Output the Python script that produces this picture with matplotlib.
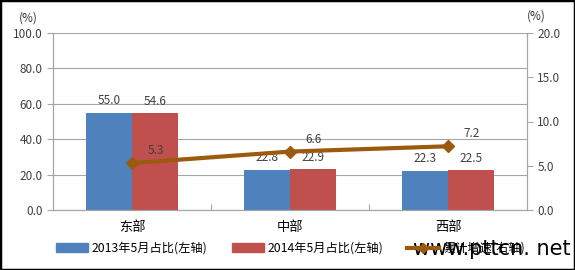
import matplotlib
matplotlib.use("Agg")
import matplotlib.pyplot as plt
import numpy as np
from matplotlib.patches import Rectangle

plt.rcParams['font.family'] = ['Noto Sans CJK SC', 'DejaVu Sans']

regions = ['东部', '中部', '西部']
share_2013 = [55.0, 22.8, 22.3]
share_2014 = [54.6, 22.9, 22.5]
growth = [5.3, 6.6, 7.2]
series_names = ['2013年5月占比(左轴)', '2014年5月占比(左轴)', '累计增速(右轴)']

blue = '#4F81BD'
red = '#C0504D'
brown = '#9B5A0F'
grid_c = '#A6A6A6'

fig = plt.figure(figsize=(5.75, 2.7), dpi=100)
fig.patches.append(Rectangle((0, 0), 1, 1, transform=fig.transFigure,
                             fill=False, edgecolor='black', linewidth=2.5))

ax = fig.add_axes([0.0922, 0.2222, 0.8243, 0.6556])
ax2 = ax.twinx()

x = np.arange(len(regions))
w = 0.29
b1 = ax.bar(x - w / 2, share_2013, w, color=blue, zorder=2)
b2 = ax.bar(x + w / 2, share_2014, w, color=red, zorder=2)
for bars, vals in ((b1, share_2013), (b2, share_2014)):
    for r, v in zip(bars, vals):
        ax.annotate(f'{v:.1f}', (r.get_x() + r.get_width() / 2, v),
                    xytext=(0, 4), textcoords='offset points',
                    ha='center', va='bottom', fontsize=8.5, color='#404040')

ax2.plot(x, growth, color=brown, linewidth=3, marker='D', markersize=6, zorder=3)
for xi, g in zip(x, growth):
    ax2.annotate(f'{g:.1f}', (xi, g), xytext=(17, 9), textcoords='offset points',
                 ha='center', va='center', fontsize=8.5, color='#404040')

ax.set_xlim(-0.5, 2.5)
ax.set_ylim(0, 100)
ax2.set_ylim(0, 20)
ax.set_yticks(np.arange(0, 101, 20))
ax2.set_yticks(np.arange(0, 21, 5))
ax.set_yticklabels([f'{v:.1f}' for v in np.arange(0, 101, 20)], fontsize=8.5)
ax2.set_yticklabels([f'{v:.1f}' for v in np.arange(0, 21, 5)], fontsize=8.5)
ax.yaxis.grid(True, color=grid_c, linewidth=0.8, zorder=0)
ax.set_axisbelow(True)

ax.set_xticks([0.5, 1.5])
ax.set_xticklabels([])
ax.set_xticks(x, minor=True)
ax.set_xticklabels(regions, minor=True, fontsize=9.5)
ax.tick_params(axis='x', which='minor', length=0, pad=8)
ax.tick_params(axis='x', which='major', length=4, color=grid_c, direction='in')
ax.tick_params(axis='y', length=4, color=grid_c, labelcolor='#404040')
ax2.tick_params(axis='y', length=4, color=grid_c, labelcolor='#404040')

for a in (ax, ax2):
    a.spines['top'].set_visible(False)
    for s in ('left', 'right', 'bottom'):
        a.spines[s].set_color(grid_c)

fig.text(0.049, 0.92, '(%)', fontsize=8.5, ha='center', color='#333333')
fig.text(0.933, 0.928, '(%)', fontsize=8.5, ha='center', color='#333333')

handles = [Rectangle((0, 0), 1, 1, color=blue), Rectangle((0, 0), 1, 1, color=red),
           plt.Line2D([], [], color=brown, linewidth=3, marker='D', markersize=5)]
fig.legend(handles, series_names, loc='center', bbox_to_anchor=(0.505, 0.08),
           ncol=3, frameon=False, fontsize=8.8, handlelength=2.6, columnspacing=2.0,
           handletextpad=0.3)

fig.text(0.992, 0.04, 'www.pttcn. net', fontsize=15, ha='right', va='bottom',
         family=['DejaVu Sans'], color='black')

fig.savefig('out.png', dpi=100)
